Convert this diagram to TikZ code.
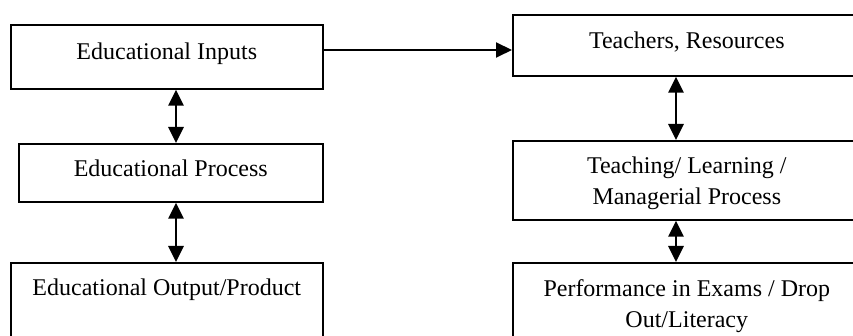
\documentclass[tikz,border=0pt]{standalone}
\usepackage{fontspec}
\setmainfont{Liberation Serif}
\usetikzlibrary{arrows.meta}
\tikzset{
  stage/.style = {
    draw, line width=0.8pt, anchor=north west, inner sep=0pt,
    align=flush center, font=\fontsize{12pt}{15.5pt}\selectfont
  }
}
\tikzset{>={Triangle[length=8pt,width=7.5pt]}}

\begin{document}
\begin{tikzpicture}[x=0.5pt,y=-0.5pt]
  \useasboundingbox (0,0) rectangle (853,336);
  \clip (0,0) rectangle (853,336);
  % left column
  \node[stage,text width=156pt,text height=17.2pt,text depth=14.8pt] (inputs) at (10,24) {Educational Inputs};
  \node[stage,text width=152pt,text height=16.5pt,text depth=12.5pt] (process) at (18,143) {Educational Process};
  \node[stage,text width=156pt,text height=16.5pt,text depth=40pt] (output) at (10,262) {Educational Output/Product};
  % right column
  \node[stage,text width=174pt,text height=17pt,text depth=13.5pt] (teachers) at (512,14) {Teachers, Resources};
  \node[stage,text width=174pt,text height=16.5pt,text depth=23pt] (teaching) at (512,140) {Teaching/ Learning /\\Managerial Process};
  \node[stage,text width=174pt,text height=17pt,text depth=40pt] (exams) at (512,262) {Performance in Exams / Drop\\Out/Literacy};
  % arrow lines
  \coordinate (lx) at (176,0);
  \coordinate (rx) at (676,0);
  \coordinate (hy) at (0,50);
  \draw[->,line width=1pt] (inputs.east |- hy) -- (teachers.west |- hy);
  \draw[<->,line width=1.4pt] (inputs.south -| lx) -- (process.north -| lx);
  \draw[<->,line width=1.4pt] (process.south -| lx) -- (output.north -| lx);
  \draw[<->,line width=1.4pt] (teachers.south -| rx) -- (teaching.north -| rx);
  \draw[<->,line width=1.4pt] (teaching.south -| rx) -- (exams.north -| rx);
\end{tikzpicture}
\end{document}
